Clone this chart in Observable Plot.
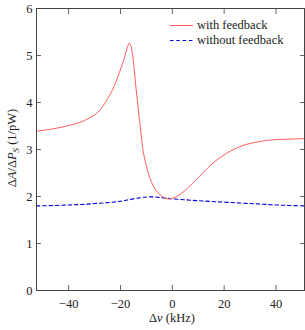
<!DOCTYPE html>
<html>
<head>
<meta charset="utf-8">
<script src="https://cdn.jsdelivr.net/npm/d3@7"></script>
<script src="https://cdn.jsdelivr.net/npm/@observablehq/plot@0.6"></script>
<style>
  html, body { margin: 0; padding: 0; background: #fff; }
  svg text { font-family: "Liberation Serif", "Times New Roman", serif !important; }
</style>
</head>
<body>
<div id="chart"></div>
<script>
// Detuning (kHz) and response (1/pW)
const fbX = [-52.4, -46, -40, -36, -32, -28.7, -26.2, -24.2, -22.3, -20.4, -18.8, -17.6, -16.6, -16, -15.3, -14.6, -14, -13.5, -13, -12.4, -11.2, -10, -9.2, -8, -6.7, -5.3, -4, -2.5, -1.5, 0, 2.3, 5, 7.5, 10, 12.6, 15, 18, 21, 24, 28, 32, 36, 40, 45, 51];
const fbY = [3.39, 3.44, 3.51, 3.57, 3.67, 3.79, 3.97, 4.15, 4.36, 4.64, 4.89, 5.13, 5.26, 5.21, 5.00, 4.65, 4.30, 4.06, 3.80, 3.50, 2.95, 2.65, 2.48, 2.30, 2.16, 2.07, 2.00, 1.96, 1.95, 1.96, 2.02, 2.13, 2.27, 2.40, 2.55, 2.68, 2.81, 2.92, 3.01, 3.10, 3.15, 3.19, 3.21, 3.22, 3.23];
const nofbX = [-52.4, -45, -40, -35, -30, -25, -20, -15, -10, -7, -3, 0, 5, 10, 15, 20, 25, 30, 35, 40, 45, 51];
const nofbY = [1.80, 1.81, 1.82, 1.83, 1.85, 1.87, 1.90, 1.95, 1.99, 1.99, 1.97, 1.95, 1.93, 1.91, 1.895, 1.88, 1.865, 1.85, 1.835, 1.82, 1.81, 1.80];
const xTicks = [-40, -20, 0, 20, 40];
const yTicks = [0, 1, 2, 3, 4, 5, 6];
const seriesNames = ["with feedback", "without feedback"];
const seriesColors = ["#ff5c5c", "#0000e0"];

const fb = fbX.map((x, i) => ({x, y: fbY[i]}));
const nofb = nofbX.map((x, i) => ({x, y: nofbY[i]}));

const fmt = d => d < 0 ? "\u2212" + Math.abs(d) : String(d);
const blank = () => "";
const FONT = "'Liberation Serif', 'Times New Roman', serif";

const plot = Plot.plot({
  width: 305,
  height: 330,
  marginLeft: 36,
  marginRight: 1,
  marginTop: 8,
  marginBottom: 40,
  style: {fontFamily: FONT, fontSize: "12.5px", color: "#222", background: "#fff"},
  x: {domain: [-52.4, 51]},
  y: {domain: [0, 6]},
  marks: [
    Plot.axisX(xTicks, {anchor: "bottom", tickSize: 0, tickPadding: 9, tickFormat: fmt, label: null, fontSize: 12.5}),
    Plot.axisX(xTicks, {anchor: "bottom", tickSize: -5, tickFormat: blank, label: null, stroke: "#666"}),
    Plot.axisX(xTicks, {anchor: "top", tickSize: -5, tickFormat: blank, label: null, stroke: "#666"}),
    Plot.axisY(yTicks, {anchor: "left", tickSize: 0, tickPadding: 4, tickFormat: fmt, label: null, fontSize: 12.5}),
    Plot.axisY(yTicks, {anchor: "left", tickSize: -5, tickFormat: blank, label: null, stroke: "#666"}),
    Plot.axisY(yTicks, {anchor: "right", tickSize: -5, tickFormat: blank, label: null, stroke: "#666"}),
    Plot.line(nofb, {x: "x", y: "y", stroke: seriesColors[1], strokeWidth: 1.1, strokeDasharray: "3.5,2.8", curve: "catmull-rom"}),
    Plot.line(fb, {x: "x", y: "y", stroke: seriesColors[0], strokeWidth: 1, curve: "catmull-rom"}),
    Plot.frame({stroke: "#444", strokeWidth: 1})
  ]
});

const svg = d3.select(plot);

// x label
const xl = svg.append("text")
  .attr("x", 172).attr("y", 322)
  .attr("text-anchor", "middle")
  .attr("font-size", 12.5)
  .attr("fill", "#222");
xl.append("tspan").text("\u0394");
xl.append("tspan").attr("font-style", "italic").text("\u03BD");
xl.append("tspan").text(" (kHz)");

// y label
const yl = svg.append("text")
  .attr("transform", "translate(16,148) rotate(-90)")
  .attr("text-anchor", "middle")
  .attr("font-size", 12.5)
  .attr("fill", "#222");
yl.append("tspan").text("\u0394");
yl.append("tspan").attr("font-style", "italic").text("A");
yl.append("tspan").text("/\u0394");
yl.append("tspan").attr("font-style", "italic").text("P");
yl.append("tspan").attr("font-style", "italic").attr("font-size", 9).attr("dy", 2.5).text("S");
yl.append("tspan").attr("dy", -2.5).text(" (1/pW)");

// legend
const legend = svg.append("g").attr("font-size", 12.5).attr("fill", "#222").attr("text-anchor", "start");
seriesNames.forEach((name, i) => {
  const y = 25.5 + i * 15;
  legend.append("line").attr("x1", 170).attr("x2", 193).attr("y1", y).attr("y2", y)
    .attr("stroke", seriesColors[i]).attr("stroke-width", i ? 1.1 : 1)
    .attr("stroke-dasharray", i ? "3.5,2.8" : null);
  legend.append("text").attr("x", 197).attr("y", y + 3.8).attr("text-anchor", "start").text(name);
});

document.getElementById("chart").appendChild(plot);
</script>
</body>
</html>
